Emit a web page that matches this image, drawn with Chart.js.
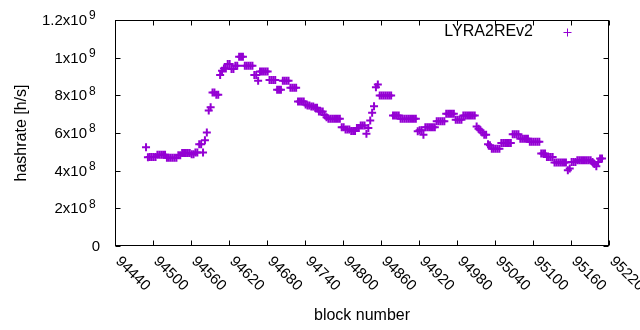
<!DOCTYPE html>
<html>
<head>
<meta charset="utf-8">
<script src="https://cdn.jsdelivr.net/npm/chart.js@4.4.1/dist/chart.umd.min.js"></script>
<style>
  html, body { margin: 0; padding: 0; background: #fff; }
</style>
</head>
<body>
<canvas id="chart" width="640" height="330"></canvas>
<script>
// ── Data ─────────────────────────────────────────────────

const seriesName = "LYRA2REv2";
const firstBlock = 94489;
const blockStep = 3;

// hashrate per sampled block, in 10^6 h/s
const hashrateM = [
  524, 471, 473, 473, 473, 473, 485, 485, 485, 485,
  485, 469, 469, 469, 469, 469, 469, 482, 482, 494,
  494, 494, 494, 494, 487, 487, 496, 496, 540, 540,
  496, 561, 602, 720, 737, 815, 815, 803, 803, 908,
  931, 943, 943, 966, 966, 940, 940, 957, 957, 1005,
  1005, 1005, 957, 957, 957, 957, 957, 908, 908, 878,
  926, 926, 926, 926, 926, 882, 882, 882, 882, 829,
  829, 829, 878, 878, 878, 878, 840, 840, 840, 840,
  767, 767, 767, 767, 751, 746, 746, 741, 741, 734,
  734, 714, 714, 714, 696, 684, 676, 676, 676, 676,
  676, 676, 676, 631, 631, 619, 619, 619, 610, 610,
  610, 626, 626, 640, 640, 640, 596, 626, 666, 707,
  742, 843, 857, 799, 799, 799, 799, 799, 799, 799,
  693, 693, 693, 693, 676, 676, 676, 676, 676, 676,
  676, 676, 676, 609, 614, 614, 591, 631, 631, 631,
  631, 631, 631, 663, 663, 663, 663, 663, 702, 702,
  702, 702, 702, 671, 671, 671, 671, 693, 693, 693,
  693, 693, 693, 693, 635, 623, 614, 602, 591, 591,
  540, 535, 517, 517, 517, 517, 517, 547, 547, 547,
  547, 547, 547, 594, 594, 594, 594, 570, 570, 570,
  570, 570, 554, 554, 554, 554, 554, 554, 491, 491,
  491, 473, 473, 473, 473, 443, 443, 443, 443, 443,
  443, 443, 402, 411, 446, 446, 446, 455, 455, 455,
  455, 455, 455, 455, 455, 446, 436, 424, 446, 464,
  464
];

const blocks = hashrateM.map((_, i) => firstBlock + i * blockStep);

const xMin = 94440, xMax = 95220, xStep = 60;
const yMax = 1.2e9, yStep = 2e8;
const yTickMant = ["0", "2x10", "4x10", "6x10", "8x10", "1x10", "1.2x10"];
const yTickExp  = ["",  "8",    "8",    "8",    "8",    "9",    "9"];

const xTitle = "block number";
const yTitle = "hashrate [h/s]";

const purple = "#9400d3";
const FONT = '"Liberation Sans", Arial, sans-serif';

// ── Frame, ticks, labels and key (gnuplot look) ──────────

const gnuplotFrame = {
  id: "gnuplotFrame",
  afterDraw(chart) {
    const { ctx, chartArea: a, scales: { x, y } } = chart;
    const L = Math.round(a.left) + 0.5, R = Math.round(a.right) - 0.5;
    const T = Math.round(a.top) + 0.5, B = Math.round(a.bottom) - 0.5;
    const tick = 5;

    ctx.save();
    ctx.strokeStyle = "#000";
    ctx.lineWidth = 1;
    ctx.strokeRect(L, T, R - L, B - T);

    ctx.beginPath();
    x.ticks.forEach(t => {
      const px = Math.round(x.getPixelForValue(t.value)) + 0.5;
      ctx.moveTo(px, B); ctx.lineTo(px, B - tick);
      ctx.moveTo(px, T); ctx.lineTo(px, T + tick);
    });
    y.ticks.forEach(t => {
      const py = Math.round(y.getPixelForValue(t.value)) + 0.5;
      ctx.moveTo(L, py); ctx.lineTo(L + tick, py);
      ctx.moveTo(R, py); ctx.lineTo(R - tick, py);
    });
    ctx.stroke();

    ctx.fillStyle = "#000";

    // x labels, rotated -45 (gnuplot sense)
    ctx.font = "15px " + FONT;
    ctx.textAlign = "left";
    ctx.textBaseline = "middle";
    x.ticks.forEach(t => {
      const px = x.getPixelForValue(t.value);
      ctx.save();
      ctx.translate(px + 3, a.bottom + 13);
      ctx.rotate(Math.PI / 4);
      ctx.fillText(String(t.value), 0, 0);
      ctx.restore();
    });

    // y labels with superscript exponent
    y.ticks.forEach((t, i) => {
      const py = y.getPixelForValue(t.value);
      ctx.textBaseline = "middle";
      if (yTickExp[i]) {
        ctx.font = "15px " + FONT;
        ctx.textAlign = "right";
        ctx.fillText(yTickMant[i], 87, py + 1);
        ctx.font = "12px " + FONT;
        ctx.textAlign = "left";
        ctx.fillText(yTickExp[i], 89, py - 4);
      } else {
        ctx.font = "15px " + FONT;
        ctx.textAlign = "right";
        ctx.fillText(yTickMant[i], 100, py + 1);
      }
    });

    // key
    const ds = chart.data.datasets[0];
    ctx.font = "16px " + FONT;
    ctx.textAlign = "right";
    ctx.fillText(ds.label, 533, 32);
    ctx.strokeStyle = purple;
    ctx.beginPath();
    ctx.moveTo(563.5, 32.5); ctx.lineTo(571.5, 32.5);
    ctx.moveTo(567.5, 28.5); ctx.lineTo(567.5, 36.5);
    ctx.stroke();

    ctx.restore();
  }
};

// ── Chart ────────────────────────────────────────────────

Chart.defaults.font.family = FONT;
Chart.defaults.font.size = 16;
Chart.defaults.color = "#000";

new Chart(document.getElementById("chart"), {
  type: "scatter",
  data: {
    datasets: [{
      label: seriesName,
      data: blocks.map((b, i) => ({ x: b, y: hashrateM[i] * 1e6 })),
      pointStyle: "cross",
      pointRadius: 4,
      pointBorderWidth: 2,
      borderColor: purple,
      backgroundColor: purple,
      showLine: false
    }]
  },
  options: {
    responsive: false,
    animation: false,
    events: [],
    layout: { padding: { top: 20, right: 31, left: 0, bottom: 0 } },
    plugins: {
      legend: { display: false },
      tooltip: { enabled: false }
    },
    scales: {
      x: {
        type: "linear",
        min: xMin,
        max: xMax,
        grid: { display: false },
        border: { display: false },
        ticks: { display: false, stepSize: xStep },
        title: { display: true, text: xTitle, padding: { top: 0, bottom: 4.4 } },
        afterFit: s => { s.height = 84; }
      },
      y: {
        min: 0,
        max: yMax,
        grid: { display: false },
        border: { display: false },
        ticks: { display: false, stepSize: yStep },
        title: { display: true, text: yTitle, padding: { top: 12.4, bottom: 0 } },
        afterFit: s => { s.width = 115; }
      }
    }
  },
  plugins: [gnuplotFrame]
});
</script>
</body>
</html>
